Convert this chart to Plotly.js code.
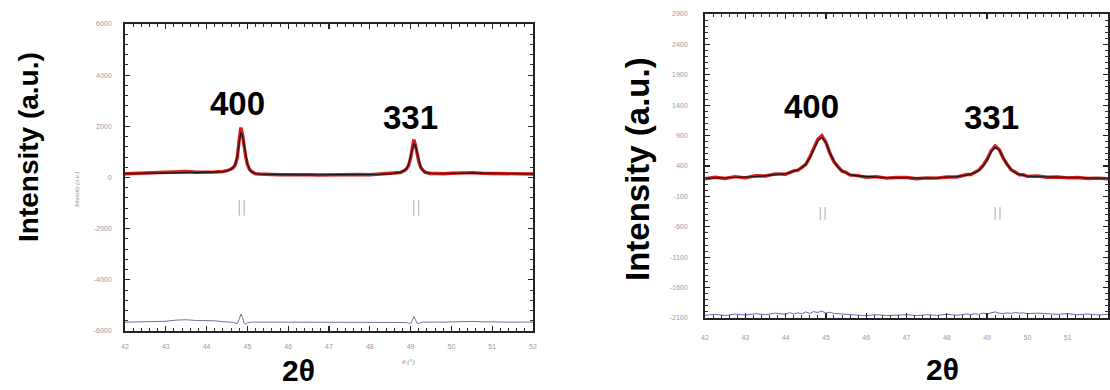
<!DOCTYPE html>
<html>
<head>
<meta charset="utf-8">
<script src="https://cdn.plot.ly/plotly-3.0.1.min.js"></script>
<style>html,body{margin:0;padding:0;background:#fff;}#chart{width:1110px;height:390px;}</style>
</head>
<body>
<div id="chart"></div>
<script>
// ---------- Left panel data ----------
const leftX = [
  42.0, 42.25, 42.5, 42.75, 43.0, 43.25, 43.5, 43.75, 44.0, 44.2,
  44.4, 44.5, 44.6, 44.65, 44.7, 44.75, 44.8, 44.84, 44.88, 44.92,
  44.96, 45.0, 45.05, 45.1, 45.15, 45.2, 45.3, 45.45, 45.6, 45.8,
  46.0, 46.25, 46.5, 46.75, 47.0, 47.25, 47.5, 47.75, 48.0, 48.25,
  48.5, 48.65, 48.75, 48.85, 48.9, 48.95, 49.0, 49.04, 49.08, 49.12,
  49.16, 49.2, 49.25, 49.3, 49.35, 49.4, 49.5, 49.65, 49.8, 50.0,
  50.25, 50.5, 50.75, 51.0, 51.25, 51.5, 51.75, 52.0
];
const leftObs = [
  145, 160, 150, 170, 175, 215, 235, 205, 200, 215,
  235, 265, 330, 380, 480, 760, 1500, 1950, 1680, 1180,
  800, 520, 320, 235, 185, 145, 135, 115, 120, 105,
  115, 100, 110, 95, 105, 100, 100, 115, 110, 130,
  150, 175, 195, 270, 340, 470, 760, 1120, 1480, 1260,
  920, 620, 390, 275, 205, 185, 155, 155, 145, 165,
  180, 190, 165, 160, 155, 140, 145, 135
];
const leftCalc = [
  150, 150, 155, 160, 165, 175, 185, 190, 195, 205,
  225, 255, 320, 390, 520, 820, 1400, 1760, 1620, 1230,
  840, 540, 330, 230, 180, 150, 130, 120, 115, 110,
  110, 105, 105, 100, 100, 100, 105, 110, 115, 125,
  145, 170, 200, 280, 350, 500, 800, 1100, 1330, 1230,
  950, 650, 400, 270, 210, 180, 160, 150, 150, 160,
  170, 180, 170, 160, 150, 145, 140, 140
];
const leftDiff = [
  -5655, -5645, -5650, -5640, -5620, -5575, -5560, -5590, -5600, -5600,
  -5640, -5640, -5640, -5660, -5690, -5710, -5550, -5340, -5470, -5700,
  -5740, -5680, -5660, -5645, -5650, -5655, -5650, -5655, -5650, -5655,
  -5655, -5660, -5655, -5660, -5660, -5660, -5660, -5660, -5660, -5655,
  -5650, -5650, -5655, -5665, -5670, -5690, -5720, -5600, -5430, -5560,
  -5700, -5700, -5665, -5650, -5655, -5650, -5655, -5650, -5655, -5645,
  -5630, -5625, -5640, -5650, -5650, -5655, -5650, -5655
];
const leftBraggX = [44.80, 44.92, 49.08, 49.20];
const leftBraggY = [-1190, -1190, -1190, -1190];
const leftYTicks = [-6000, -4000, -2000, 0, 2000, 4000, 6000];

// ---------- Right panel data ----------
const rightX = [
  42.0, 42.25, 42.5, 42.75, 43.0, 43.25, 43.5, 43.75, 44.0, 44.1,
  44.2, 44.3, 44.4, 44.5, 44.6, 44.7, 44.8, 44.9, 45.0, 45.1,
  45.2, 45.3, 45.4, 45.5, 45.6, 45.75, 46.0, 46.25, 46.5, 46.75,
  47.0, 47.25, 47.5, 47.75, 48.0, 48.25, 48.5, 48.6, 48.7, 48.8,
  48.9, 49.0, 49.1, 49.2, 49.3, 49.4, 49.5, 49.6, 49.7, 49.8,
  49.9, 50.0, 50.25, 50.5, 50.75, 51.0, 51.25, 51.5, 51.75, 52.0
];
const rightObs = [
  190, 215, 195, 225, 205, 240, 235, 270, 265, 300,
  320, 330, 385, 425, 545, 690, 840, 900, 790, 610,
  470, 390, 315, 295, 250, 245, 215, 225, 200, 210,
  210, 190, 205, 200, 220, 220, 260, 260, 300, 335,
  410, 510, 650, 730, 670, 530, 425, 335, 300, 255,
  255, 230, 235, 215, 220, 205, 210, 195, 200, 190
];
const rightCalc = [
  195, 200, 205, 210, 215, 225, 240, 255, 275, 290,
  310, 335, 370, 430, 530, 670, 810, 870, 780, 620,
  480, 380, 320, 285, 260, 240, 225, 215, 210, 205,
  200, 200, 200, 205, 210, 225, 250, 265, 290, 330,
  400, 500, 630, 710, 660, 540, 420, 340, 290, 260,
  245, 235, 225, 220, 215, 210, 205, 200, 195, 195
];
const rightDiff = [
  -2055, -2040, -2060, -2035, -2050, -2030, -2045, -2020, -2040, -2010,
  -2035, -2015, -2030, -2000, -2025, -1995, -2010, -1985, -2020, -2005,
  -2025, -2030, -2045, -2040, -2055, -2050, -2060, -2045, -2060, -2050,
  -2045, -2060, -2045, -2055, -2040, -2055, -2035, -2045, -2030, -2040,
  -2020, -2030, -2010, -2000, -2020, -2030, -2015, -2025, -2010, -2020,
  -2015, -2030, -2020, -2025, -2040, -2030, -2045, -2035, -2050, -2040
];
const rightBraggX = [44.86, 44.98, 49.20, 49.32];
const rightBraggY = [-380, -380, -380, -380];
const rightYTicks = [-2100, -1600, -1100, -600, -100, 400, 900, 1400, 1900, 2400, 2900];

const xTicks = [42, 43, 44, 45, 46, 47, 48, 49, 50, 51, 52];
const peakLabels = ["400", "331"];

// ---------- Traces ----------
const obsStyle = {color: "#d61e1e", width: 3.4};
const calcStyle = {color: "#1a1a1a", width: 1.3};
const diffStyleL = {color: "#6f6f9a", width: 1};
const diffStyleR = {color: "#6a6ab0", width: 1};

const traces = [
  {x: leftX, y: leftObs, xaxis: "x", yaxis: "y", mode: "lines", line: obsStyle},
  {x: leftX, y: leftCalc, xaxis: "x", yaxis: "y", mode: "lines", line: calcStyle},
  {x: leftX, y: leftDiff, xaxis: "x", yaxis: "y", mode: "lines", line: diffStyleL},
  {x: leftBraggX, y: leftBraggY, xaxis: "x", yaxis: "y", mode: "markers",
   marker: {symbol: "line-ns", size: 11, line: {color: "#aaaaaa", width: 1}}},
  {x: rightX, y: rightObs, xaxis: "x2", yaxis: "y2", mode: "lines", line: obsStyle},
  {x: rightX, y: rightCalc, xaxis: "x2", yaxis: "y2", mode: "lines", line: calcStyle},
  {x: rightX, y: rightDiff, xaxis: "x2", yaxis: "y2", mode: "lines", line: diffStyleR},
  {x: rightBraggX, y: rightBraggY, xaxis: "x2", yaxis: "y2", mode: "markers",
   marker: {symbol: "line-ns", size: 9, line: {color: "#aaaaaa", width: 1}}}
];

const W = 1110, H = 390;
function px(x) { return x / W; }
function py(y) { return 1 - y / H; }

const tickFont = {family: "Liberation Sans, Arial, sans-serif", size: 7, color: "#9a9a9a"};
function axisBase(extra) {
  return Object.assign({
    showline: true, linecolor: "#222", linewidth: 2, mirror: "allticks",
    ticks: "inside", ticklen: 5, tickwidth: 1.2, tickcolor: "#222",
    showgrid: false, zeroline: false, tickfont: tickFont, fixedrange: true
  }, extra);
}

const bigFont = {family: "Liberation Sans, Arial, sans-serif", size: 33, color: "#000"};
function bold(t) { return "<b>" + t + "</b>"; }

const layout = {
  width: W, height: H,
  margin: {l: 0, r: 0, t: 0, b: 0},
  paper_bgcolor: "#fff", plot_bgcolor: "#fff",
  showlegend: false,
  xaxis: axisBase({domain: [px(125), px(533)], anchor: "y", range: [42, 52],
    tickvals: xTicks, ticktext: xTicks.map(String), ticklabelstandoff: 8,
    minor: {ticks: "inside", ticklen: 3, dtick: 0.2, tickcolor: "#333", tickwidth: 1}}),
  yaxis: axisBase({domain: [py(331), py(24)], anchor: "x", range: [-6000, 6000],
    tickvals: leftYTicks, ticktext: leftYTicks.map(String), ticklabelstandoff: 10,
    minor: {ticks: "inside", ticklen: 3, dtick: 400, tickcolor: "#333", tickwidth: 1}}),
  xaxis2: axisBase({domain: [px(705), px(1108)], anchor: "y2", range: [42, 52],
    tickvals: xTicks, ticktext: xTicks.map(String), ticklabelstandoff: 12,
    minor: {ticks: "inside", ticklen: 3, dtick: 0.2, tickcolor: "#333", tickwidth: 1}}),
  yaxis2: axisBase({domain: [py(318), py(14)], anchor: "x2", range: [-2100, 2900],
    tickvals: rightYTicks, ticktext: rightYTicks.map(String), ticklabelstandoff: 14,
    minor: {ticks: "inside", ticklen: 3, dtick: 100, tickcolor: "#333", tickwidth: 1}}),
  annotations: [
    {xref: "x", yref: "y", x: 44.75, y: 2910, text: bold(peakLabels[0]), showarrow: false,
     font: bigFont, xanchor: "center", yanchor: "middle"},
    {xref: "x", yref: "y", x: 48.99, y: 2363, text: bold(peakLabels[1]), showarrow: false,
     font: bigFont, xanchor: "center", yanchor: "middle"},
    {xref: "x2", yref: "y2", x: 44.65, y: 1371, text: bold(peakLabels[0]), showarrow: false,
     font: bigFont, xanchor: "center", yanchor: "middle"},
    {xref: "x2", yref: "y2", x: 49.12, y: 1190, text: bold(peakLabels[1]), showarrow: false,
     font: bigFont, xanchor: "center", yanchor: "middle"},
    {xref: "paper", yref: "paper", x: px(28), y: py(147), text: bold("Intensity (a.u.)"),
     textangle: -90, showarrow: false, xanchor: "center", yanchor: "middle",
     font: {family: "Liberation Sans, Arial, sans-serif", size: 28, color: "#000"}},
    {xref: "paper", yref: "paper", x: px(637), y: py(169), text: bold("Intensity (a.u.)"),
     textangle: -90, showarrow: false, xanchor: "center", yanchor: "middle",
     font: {family: "Liberation Sans, Arial, sans-serif", size: 33, color: "#000"}},
    {xref: "paper", yref: "paper", x: px(298), y: py(370), text: bold("2θ"),
     showarrow: false, xanchor: "center", yanchor: "middle",
     font: {family: "Liberation Sans, Arial, sans-serif", size: 30, color: "#000"}},
    {xref: "paper", yref: "paper", x: px(942), y: py(369), text: bold("2θ"),
     showarrow: false, xanchor: "center", yanchor: "middle",
     font: {family: "Liberation Sans, Arial, sans-serif", size: 30, color: "#000"}},
    {xref: "paper", yref: "paper", x: px(77), y: py(190), text: "<i>Intensity (a.u.)</i>",
     textangle: -90, showarrow: false, xanchor: "center", yanchor: "middle",
     font: {family: "Liberation Serif, serif", size: 6, color: "#888"}},
    {xref: "paper", yref: "paper", x: px(408), y: py(362), text: "<i>θ (°)</i>",
     showarrow: false, xanchor: "center", yanchor: "middle",
     font: {family: "Liberation Serif, serif", size: 7, color: "#888"}}
  ]
};

Plotly.newPlot("chart", traces, layout, {staticPlot: true, displayModeBar: false});
</script>
</body>
</html>
